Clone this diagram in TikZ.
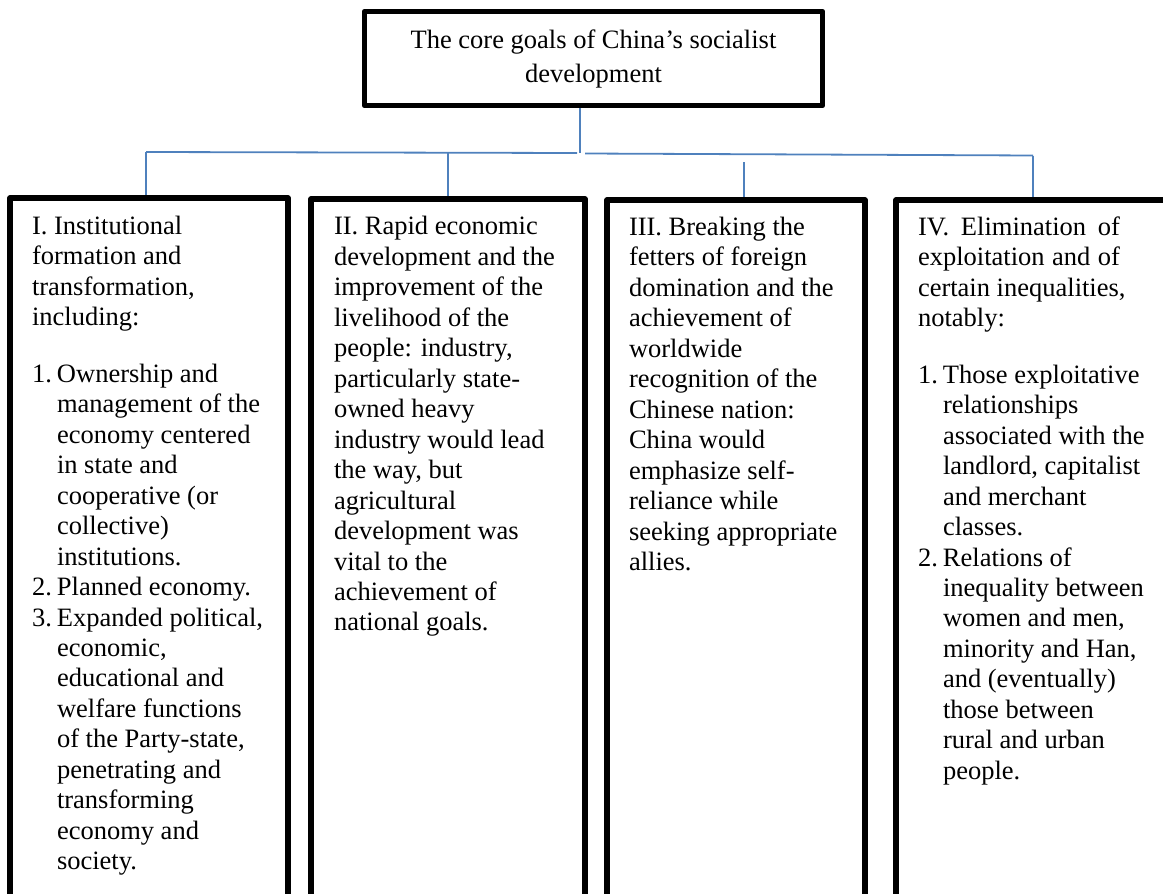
\documentclass[tikz,border=0pt]{standalone}
\usepackage{fontspec}
\setmainfont{Liberation Serif}
\definecolor{connblue}{RGB}{79,129,189}
\newcommand\itemno[1]{\makebox[25pt][l]{#1}}
\newcommand\indnt{\hspace*{25pt}}
\tikzset{
  goalbox/.style={draw=black, line width=5.5pt, line join=round, rectangle, inner sep=0pt},
  bodytext/.style={anchor=base west, inner sep=0pt, outer sep=0pt, font=\fontsize{26.5}{30.5}\selectfont},
  connline/.style={draw=connblue, line width=1.8pt}
}
\begin{document}
\begin{tikzpicture}[x=1pt, y=-1pt]
\useasboundingbox (0,0) rectangle (1163,894);
\clip (0,0) rectangle (1163,894);

% boxes
\node[goalbox, minimum width=458pt, minimum height=94pt] (top) at (593.5,58.5) {};
\node[goalbox, minimum width=278pt, minimum height=802pt] (b1) at (149,599) {};
\node[goalbox, minimum width=274pt, minimum height=801pt] (b2) at (448,599.5) {};
\node[goalbox, minimum width=258pt, minimum height=800pt] (b3) at (736,600) {};
\node[goalbox, minimum width=279pt, minimum height=800pt] (b4) at (1035.5,600) {};

% connectors
\coordinate (j) at (580,152.5);
\coordinate (hl) at (146,152);
\coordinate (jl) at (577,153);
\coordinate (jr) at (585,153.5);
\coordinate (hr) at (1033,155.5);
\coordinate (d2) at (448,153);
\coordinate (d3) at (744,162);
\draw[connline] (top.south -| j) -- (j);
\draw[connline] (hl) -- (jl);
\draw[connline] (jr) -- (hr);
\draw[connline] (hl) -- (hl |- b1.north);
\draw[connline] (d2) -- (d2 |- b2.north);
\draw[connline] (d3) -- (d3 |- b3.north);
\draw[connline] (hr) -- (hr |- b4.north);

% texts
\node[anchor=base, inner sep=0pt, font=\fontsize{26.5}{34}\selectfont] (tt) at (593.5,48)
{\begin{tabular}[t]{@{}c@{}}The core goals of China’s socialist\\ development\end{tabular}};

\node[bodytext] (t1) at (32,234) {\begin{tabular}[t]{@{}l@{}}
I. Institutional\\
formation and\\
transformation,\\
including:\\[26pt]
\itemno{1.}Ownership and\\
\indnt management of the\\
\indnt economy centered\\
\indnt in state and\\
\indnt cooperative (or\\
\indnt collective)\\
\indnt institutions.\\
\itemno{2.}Planned economy.\\
\itemno{3.}Expanded political,\\
\indnt economic,\\
\indnt educational and\\
\indnt welfare functions\\
\indnt of the Party-state,\\
\indnt penetrating and\\
\indnt transforming\\
\indnt economy and\\
\indnt society.
\end{tabular}};

\node[bodytext] (t2) at (334,234.5) {\begin{tabular}[t]{@{}l@{}}
II. Rapid economic\\
development and the\\
improvement of the\\
livelihood of the\\
people: industry,\\
particularly state-\\
owned heavy\\
industry would lead\\
the way, but\\
agricultural\\
development was\\
vital to the\\
achievement of\\
national goals.
\end{tabular}};

\node[bodytext] (t3) at (629,235) {\begin{tabular}[t]{@{}l@{}}
III. Breaking the\\
fetters of foreign\\
domination and the\\
achievement of\\
worldwide\\
recognition of the\\
Chinese nation:\\
China would\\
emphasize self-\\
reliance while\\
seeking appropriate\\
allies.
\end{tabular}};

\node[bodytext] (t4) at (918,235) {\begin{tabular}[t]{@{}l@{}}
\makebox[202pt][s]{IV. Elimination of}\\
\makebox[202pt][s]{exploitation and of}\\
certain inequalities,\\
notably:\\[26pt]
\itemno{1.}Those exploitative\\
\indnt relationships\\
\indnt associated with the\\
\indnt landlord, capitalist\\
\indnt and merchant\\
\indnt classes.\\
\itemno{2.}Relations of\\
\indnt inequality between\\
\indnt women and men,\\
\indnt minority and Han,\\
\indnt and (eventually)\\
\indnt those between\\
\indnt rural and urban\\
\indnt people.
\end{tabular}};
\end{tikzpicture}
\end{document}
